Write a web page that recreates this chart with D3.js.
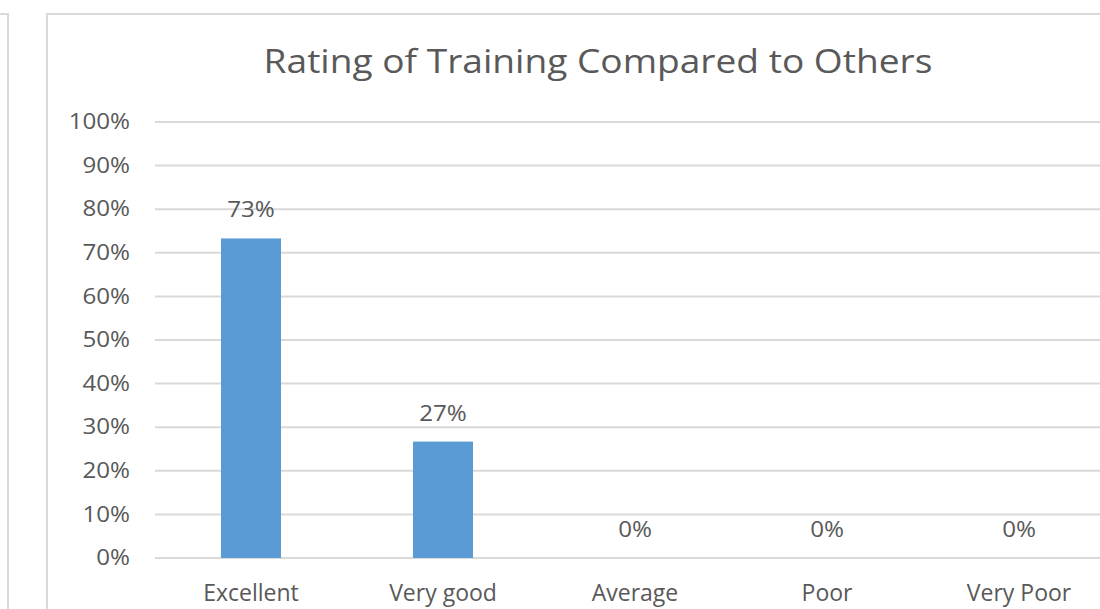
<!DOCTYPE html>
<html>
<head>
<meta charset="utf-8">
<script src="https://cdn.jsdelivr.net/npm/d3@7"></script>
<style>
  body { margin: 0; background: #fff; }
  svg text { font-family: "Open Sans", sans-serif; fill: #595959; }
</style>
</head>
<body>
<div id="chart"></div>
<script>
const categories = ["Excellent", "Very good", "Average", "Poor", "Very Poor"]
const values = [0.733, 0.267, 0, 0, 0]
const valueLabels = ["73%", "27%", "0%", "0%", "0%"]
const yTicks = [0, 0.1, 0.2, 0.3, 0.4, 0.5, 0.6, 0.7, 0.8, 0.9, 1]

const w = 1100
const h = 609
const stretch = 1.15
const svg = d3.select("#chart")
  .append("svg")
  .attr("width", w)
  .attr("height", h)

// frame of previous chart on the left edge
svg.append("path")
  .attr("d", "M0,14H8V609")
  .attr("fill", "none")
  .attr("stroke", "#d9d9d9")
  .attr("stroke-width", 2)

// chart frame
svg.append("rect")
  .attr("x", 47).attr("y", 14)
  .attr("width", 1100).attr("height", 700)
  .attr("fill", "none")
  .attr("stroke", "#d9d9d9")
  .attr("stroke-width", 2)

svg.append("text")
  .attr("transform", "translate(598,73) scale(1.16,1)")
  .attr("text-anchor", "middle")
  .style("font-size", "32px")
  .text("Rating of Training Compared to Others")

const xScale = d3.scaleBand()
  .domain(categories)
  .range([155, 1115])
  .paddingInner(0.6875)
  .paddingOuter(0.34375)

const yScale = d3.scaleLinear()
  .domain([0, 1])
  .range([558, 122])

// gridlines
svg.append("g")
  .selectAll("line")
  .data(yTicks)
  .enter()
  .append("line")
  .attr("x1", 155)
  .attr("x2", w)
  .attr("y1", d => yScale(d))
  .attr("y2", d => yScale(d))
  .attr("stroke", "#d9d9d9")
  .attr("stroke-width", 2)

const yAxis = d3.axisLeft(yScale)
  .tickValues(yTicks)
  .tickFormat(d3.format(".0%"))
  .tickSize(0)
  .tickPadding(0)

svg.append("g")
  .attr("transform", "translate(130,0)")
  .call(yAxis)
  .call(g => g.select(".domain").remove())
  .selectAll("text")
  .style("font-size", "21px")
  .attr("transform", `scale(${stretch},1)`)
  .attr("fill", null)

svg.selectAll("rect.bar")
  .data(values)
  .enter()
  .append("rect")
  .attr("class", "bar")
  .attr("x", (d, i) => xScale(categories[i]))
  .attr("y", d => yScale(d))
  .attr("width", xScale.bandwidth())
  .attr("height", d => yScale(0) - yScale(d))
  .attr("fill", "#5b9bd5")

svg.selectAll("text.val")
  .data(values)
  .enter()
  .append("text")
  .attr("class", "val")
  .attr("transform", (d, i) =>
    `translate(${xScale(categories[i]) + xScale.bandwidth() / 2},${yScale(d) - 21}) scale(${stretch},1)`)
  .attr("text-anchor", "middle")
  .style("font-size", "21px")
  .text((d, i) => valueLabels[i])

const xAxis = d3.axisBottom(xScale)
  .tickSize(0)
  .tickPadding(0)

svg.append("g")
  .attr("transform", "translate(0,585)")
  .call(xAxis)
  .call(g => g.select(".domain").remove())
  .selectAll("text")
  .style("font-size", "23px")
  .attr("fill", null)
</script>
</body>
</html>
